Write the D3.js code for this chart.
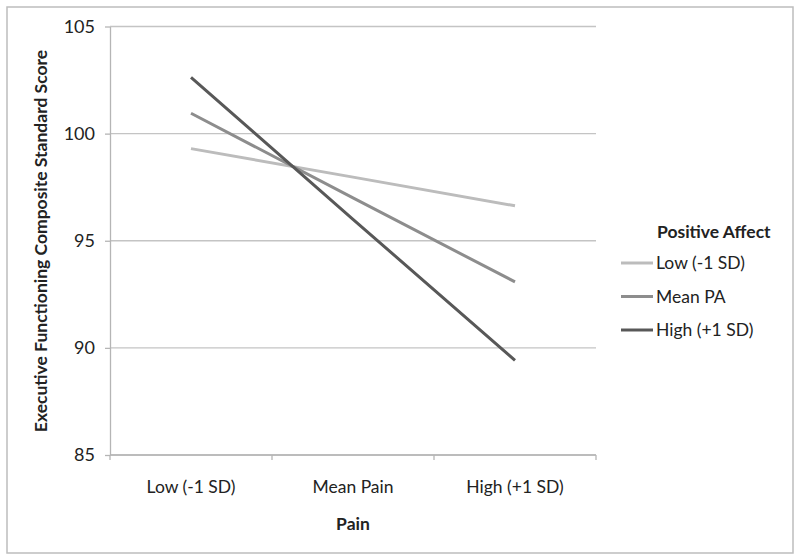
<!DOCTYPE html>
<html>
<head>
<meta charset="utf-8">
<script src="https://cdn.jsdelivr.net/npm/d3@7"></script>
<style>
  body { margin: 0; background: #fff; }
  text { font-family: Lato, "Open Sans", sans-serif; fill: #222; }
</style>
</head>
<body>
<svg width="800" height="559"></svg>
<script>
// data
const painLevels = ['Low (-1 SD)', 'Mean Pain', 'High (+1 SD)']
const seriesNames = ['Low (-1 SD)', 'Mean PA', 'High (+1 SD)']
const lowPA = [99.3, 97.97, 96.63]
const meanPA = [100.95, 97.0, 93.08]
const highPA = [102.63, 96.0, 89.42]
const yTicks = [85, 90, 95, 100, 105]
const seriesColors = ['#bcbcbc', '#8d8d8d', '#585858']

const series = [lowPA, meanPA, highPA].map((vals, i) => ({
    name: seriesNames[i],
    color: seriesColors[i],
    values: vals.map((v, j) => ({ pain: painLevels[j], value: v }))
}))

const svg = d3.select('svg')

// outer frame
svg.append('rect')
    .attr('x', 7).attr('y', 7)
    .attr('width', 786).attr('height', 546)
    .attr('fill', 'none')
    .attr('stroke', '#bdbdbd')
    .attr('stroke-width', 1.5)

const x = d3.scaleBand().domain(painLevels).range([110, 596]).padding(0)
const y = d3.scaleLinear().domain([85, 105]).range([455, 26.5])

// gridlines
svg.append('g')
    .selectAll('line')
    .data(yTicks)
    .enter()
    .append('line')
    .attr('x1', 110).attr('x2', 596)
    .attr('y1', d => y(d)).attr('y2', d => y(d))
    .attr('stroke', '#c4c4c4')
    .attr('stroke-width', 1.3)

// y axis
const yAxis = svg.append('g')
    .attr('transform', 'translate(110,0)')
    .call(d3.axisLeft(y).tickValues(yTicks).tickSize(5).tickSizeOuter(0).tickPadding(10))
yAxis.selectAll('line, path').attr('stroke', '#b5b5b5').attr('stroke-width', 1.3)
yAxis.selectAll('text').attr('font-size', 18).attr('fill', '#222')
    .style('font-family', 'Lato, "Open Sans", sans-serif')

// x axis, ticks sit between the categories
const xAxis = svg.append('g').attr('transform', 'translate(0,455)')
xAxis.append('line')
    .attr('x1', 110).attr('x2', 596)
    .attr('stroke', '#b5b5b5').attr('stroke-width', 1.3)
xAxis.selectAll('.tk')
    .data(painLevels.concat(['end']))
    .enter()
    .append('line')
    .attr('class', 'tk')
    .attr('x1', (d, i) => 110 + i * x.bandwidth())
    .attr('x2', (d, i) => 110 + i * x.bandwidth())
    .attr('y1', 0).attr('y2', 5)
    .attr('stroke', '#b5b5b5').attr('stroke-width', 1.3)
xAxis.selectAll('.lbl')
    .data(painLevels)
    .enter()
    .append('text')
    .attr('class', 'lbl')
    .attr('x', d => x(d) + x.bandwidth() / 2)
    .attr('y', 38)
    .attr('text-anchor', 'middle')
    .attr('font-size', 17.5)
    .text(d => d)

// lines
const line = d3.line()
    .x(d => x(d.pain) + x.bandwidth() / 2)
    .y(d => y(d.value))

svg.append('g')
    .selectAll('path')
    .data(series)
    .enter()
    .append('path')
    .attr('d', d => line(d.values))
    .attr('fill', 'none')
    .attr('stroke', d => d.color)
    .attr('stroke-width', 3)

// axis titles
svg.append('text')
    .attr('x', 353).attr('y', 530)
    .attr('text-anchor', 'middle')
    .attr('font-size', 17.5).attr('font-weight', 'bold')
    .text('Pain')

svg.append('text')
    .attr('transform', 'translate(47,241) rotate(-90)')
    .attr('text-anchor', 'middle')
    .attr('font-size', 17.5).attr('font-weight', 'bold')
    .text('Executive Functioning Composite Standard Score')

// legend
const legend = svg.append('g')
legend.append('text')
    .attr('x', 657).attr('y', 238)
    .attr('font-size', 17.5).attr('font-weight', 'bold')
    .text('Positive Affect')

const items = legend.selectAll('.item')
    .data(series)
    .enter()
    .append('g')
    .attr('class', 'item')
    .attr('transform', (d, i) => `translate(0, ${263 + i * 33.5})`)
items.append('line')
    .attr('x1', 621).attr('x2', 653)
    .attr('stroke', d => d.color)
    .attr('stroke-width', 3)
items.append('text')
    .attr('x', 656).attr('y', 6)
    .attr('font-size', 17.5)
    .text(d => d.name)
</script>
</body>
</html>
